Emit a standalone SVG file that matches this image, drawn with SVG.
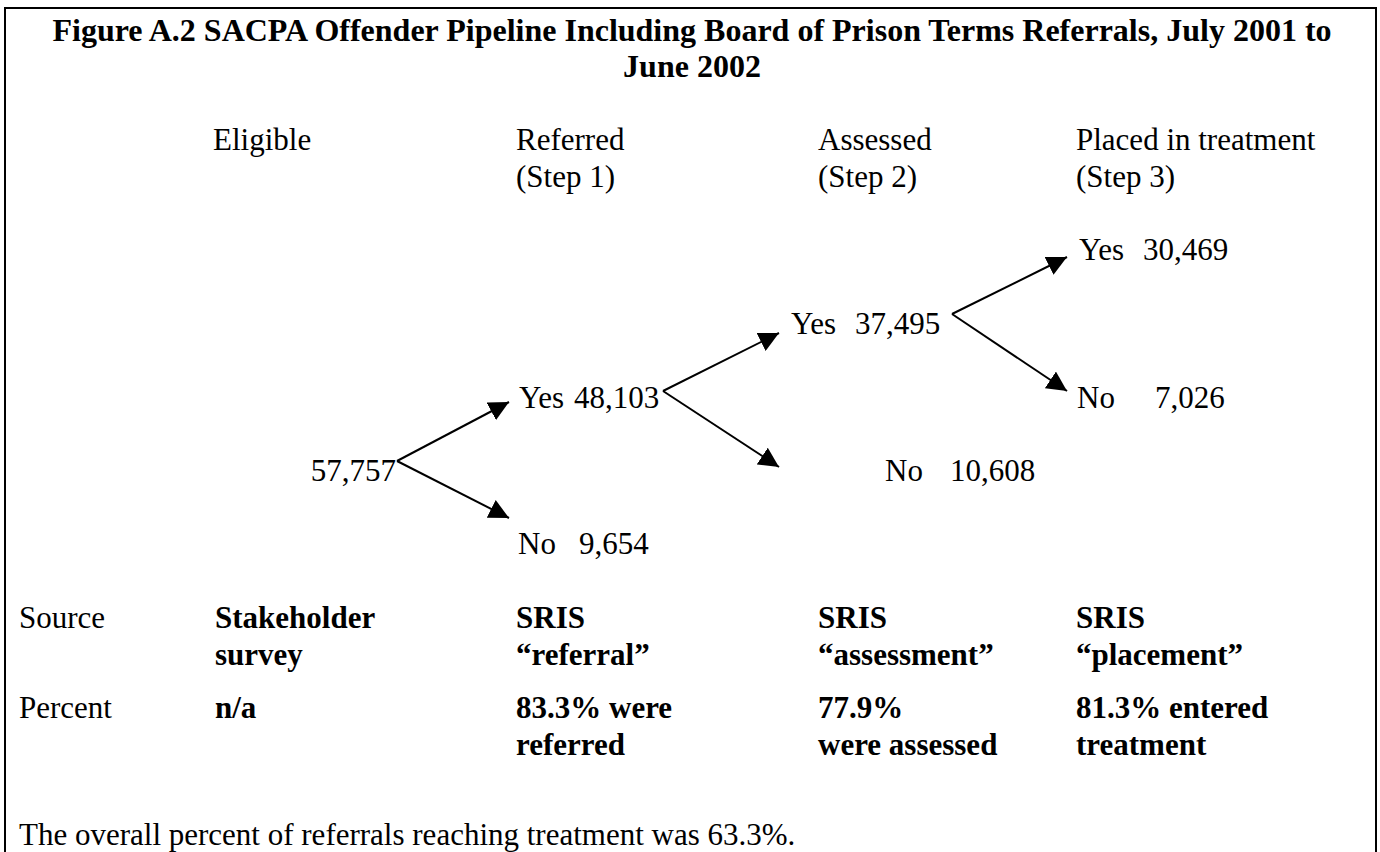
<svg xmlns="http://www.w3.org/2000/svg" width="1380" height="852" viewBox="0 0 1380 852">
<style>
text{font-family:"Liberation Serif","Times New Roman",serif;font-size:31px;fill:#000}
.b{font-weight:bold}
.t{font-weight:bold;font-size:32px}
.c{stroke:#000;stroke-width:2;fill:none}
</style>
<defs>
<marker id="ah" markerUnits="userSpaceOnUse" viewBox="0 0 20 20" refX="20" refY="10" markerWidth="20" markerHeight="20" orient="auto">
<path d="M0,0 L20,10 L0,20 z" fill="#000"/>
</marker>
</defs>
<rect x="5" y="8" width="1371" height="900" fill="#fff" stroke="#000" stroke-width="2"/>
<g id="title">
<text class="t" x="692" y="41" text-anchor="middle">Figure A.2 SACPA Offender Pipeline Including Board of Prison Terms Referrals, July 2001 to</text>
<text class="t" x="692" y="77" text-anchor="middle">June 2002</text>
</g>
<g id="headers">
<text x="213" y="150">Eligible</text>
<text x="516" y="150">Referred</text>
<text x="516" y="187">(Step 1)</text>
<text x="818" y="150">Assessed</text>
<text x="818" y="187">(Step 2)</text>
<text x="1076" y="150">Placed in treatment</text>
<text x="1076" y="187">(Step 3)</text>
</g>
<g id="n-eligible"><text x="396" y="481" text-anchor="end">57,757</text></g>
<g id="n-ref-yes"><text x="519" y="408">Yes<tspan x="574">48,103</tspan></text></g>
<g id="n-ref-no"><text x="518" y="554">No<tspan x="579">9,654</tspan></text></g>
<g id="n-ass-yes"><text x="791" y="334">Yes<tspan x="855">37,495</tspan></text></g>
<g id="n-ass-no"><text x="885" y="481">No<tspan x="950">10,608</tspan></text></g>
<g id="n-pl-yes"><text x="1079" y="260">Yes<tspan x="1143">30,469</tspan></text></g>
<g id="n-pl-no"><text x="1077" y="408">No<tspan x="1155">7,026</tspan></text></g>
<g id="connectors">
<line class="c" x1="397" y1="461" x2="509" y2="402" marker-end="url(#ah)"/>
<line class="c" x1="397" y1="461" x2="509" y2="518" marker-end="url(#ah)"/>
<line class="c" x1="663" y1="391" x2="779" y2="333" marker-end="url(#ah)"/>
<line class="c" x1="663" y1="391" x2="779" y2="467" marker-end="url(#ah)"/>
<line class="c" x1="952" y1="314" x2="1067" y2="257" marker-end="url(#ah)"/>
<line class="c" x1="952" y1="314" x2="1067" y2="391" marker-end="url(#ah)"/>
</g>
<g id="source-row">
<text x="19" y="628">Source</text>
<text class="b" x="215" y="628">Stakeholder</text>
<text class="b" x="215" y="665">survey</text>
<text class="b" x="516" y="628">SRIS</text>
<text class="b" x="516" y="665">“referral”</text>
<text class="b" x="818" y="628">SRIS</text>
<text class="b" x="818" y="665">“assessment”</text>
<text class="b" x="1076" y="628">SRIS</text>
<text class="b" x="1076" y="665">“placement”</text>
</g>
<g id="percent-row">
<text x="19" y="718">Percent</text>
<text class="b" x="215" y="718">n/a</text>
<text class="b" x="516" y="718">83.3% were</text>
<text class="b" x="516" y="755">referred</text>
<text class="b" x="818" y="718">77.9%</text>
<text class="b" x="818" y="755">were assessed</text>
<text class="b" x="1076" y="718">81.3% entered</text>
<text class="b" x="1076" y="755">treatment</text>
</g>
<g id="footer">
<text x="19" y="845">The overall percent of referrals reaching treatment was 63.3%.</text>
</g>
</svg>
